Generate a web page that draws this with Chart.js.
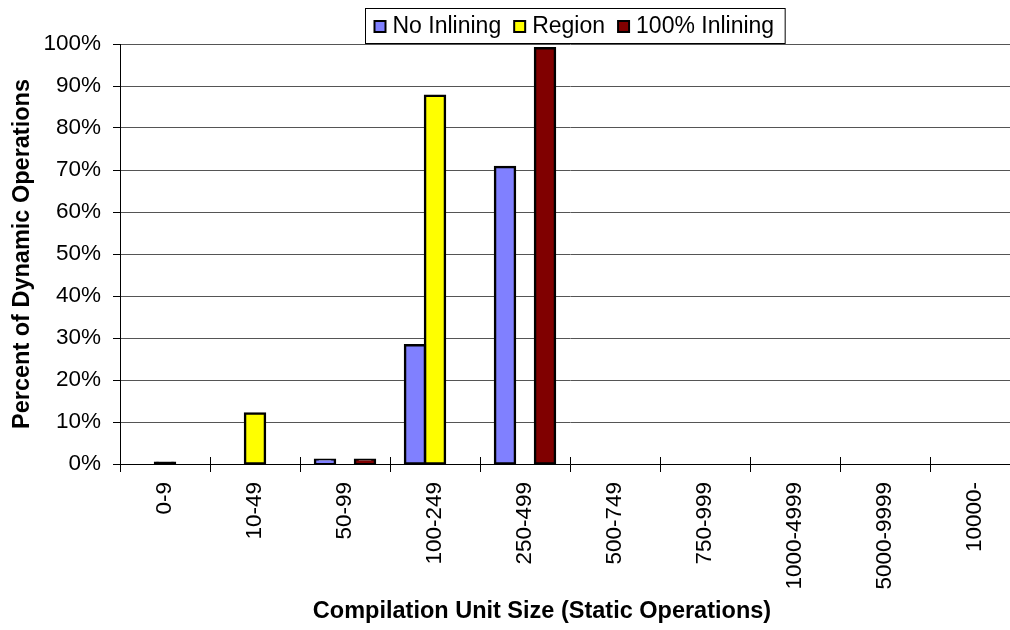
<!DOCTYPE html>
<html>
<head>
<meta charset="utf-8">
<script src="https://cdn.jsdelivr.net/npm/chart.js@4/dist/chart.umd.min.js"></script>
<style>
  html, body { margin: 0; padding: 0; background: #fff; width: 1010px; height: 630px; overflow: hidden; }
  canvas { display: block; }
</style>
</head>
<body>
<canvas id="chart" width="1030" height="630"></canvas>
<script>
// Compilation unit size buckets (static operations)
const categories = ['0-9', '10-49', '50-99', '100-249', '250-499', '500-749', '750-999', '1000-4999', '5000-9999', '10000-'];

// Percent of dynamic operations per bucket
const noInlining   = [0,   0,  1, 28.3, 70.7, 0, 0, 0, 0, 0];
const region       = [0.3, 12, 0, 87.7, 0,    0, 0, 0, 0, 0];
const fullInlining = [0,   0,  1, 0,    99,   0, 0, 0, 0, 0];

const seriesNames  = ['No Inlining', 'Region', '100% Inlining'];
const seriesColors = ['#8080FF', '#FFFF00', '#800000'];

const xTitle = 'Compilation Unit Size (Static Operations)';
const yTitle = 'Percent of Dynamic Operations';

const FONT = '"Liberation Sans", Arial, sans-serif';

// Boxed legend above the plot
const boxedLegend = {
  id: 'boxedLegend',
  afterDraw(chart) {
    const ctx = chart.ctx;
    ctx.save();
    ctx.font = '23px ' + FONT;
    ctx.textBaseline = 'middle';
    const sw = 13, gapIn = 6, gapOut = 12, padL = 8, padR = 11;
    const widths = chart.data.datasets.map(d => ctx.measureText(d.label).width);
    let total = padL + padR;
    widths.forEach((w, i) => { total += sw + gapIn + w + (i < widths.length - 1 ? gapOut : 0); });
    const cx = 574.5;
    const left = Math.round(cx - total / 2) + 0.5;
    const top = 8.5, h = 35;
    ctx.fillStyle = '#fff';
    ctx.fillRect(left, top, total, h);
    ctx.strokeStyle = '#000';
    ctx.lineWidth = 1;
    ctx.strokeRect(left, top, total, h);
    let x = left + padL;
    const cy = top + h / 2;
    chart.data.datasets.forEach((d, i) => {
      const my = Math.round(cy - sw / 2);
      ctx.fillStyle = '#000';
      ctx.fillRect(x, my, sw, sw);
      ctx.fillStyle = seriesColors[i];
      ctx.fillRect(x + 2, my + 2, sw - 4, sw - 4);
      x += sw + gapIn;
      ctx.fillStyle = '#000';
      ctx.fillText(d.label, x, cy + 1);
      x += widths[i] + gapOut;
    });
    ctx.restore();
  }
};

// Category tick marks cross the horizontal axis; axis title under the labels
const axisExtras = {
  id: 'axisExtras',
  afterDraw(chart) {
    const xs = chart.scales.x;
    const ctx = chart.ctx;
    const n = chart.data.labels.length;
    const step = (xs.right - xs.left) / n;
    ctx.save();
    ctx.strokeStyle = '#000';
    ctx.lineWidth = 1;
    ctx.beginPath();
    for (let i = 0; i <= n; i++) {
      const x = Math.round(xs.left + i * step) + 0.5;
      ctx.moveTo(x, xs.top - 7);
      ctx.lineTo(x, xs.top);
    }
    ctx.stroke();
    ctx.font = 'bold 23.5px ' + FONT;
    ctx.fillStyle = '#000';
    ctx.textAlign = 'center';
    ctx.textBaseline = 'middle';
    ctx.fillText(xTitle, 542, 612);
    ctx.restore();
  }
};

// Bars too short to show their fill appear as a plain outline
const makeSet = (label, values, color) => ({
  label,
  data: values,
  backgroundColor: c => (c.raw > 0 && c.raw < 0.5 ? '#000' : color),
  borderColor: '#000',
  borderWidth: 2.5,
  borderSkipped: false,
  inflateAmount: c => (c.raw > 0 ? 1.25 : 0),
  categoryPercentage: 60 / 90,
  barPercentage: 1.0
});

new Chart(document.getElementById('chart'), {
  type: 'bar',
  data: {
    labels: categories,
    datasets: [
      makeSet(seriesNames[0], noInlining, seriesColors[0]),
      makeSet(seriesNames[1], region, seriesColors[1]),
      makeSet(seriesNames[2], fullInlining, seriesColors[2])
    ]
  },
  options: {
    responsive: false,
    animation: false,
    devicePixelRatio: 1,
    layout: { padding: { left: 0, top: 44, right: 10, bottom: 0 } },
    plugins: {
      legend: { display: false },
      tooltip: { enabled: false },
      title: { display: false }
    },
    scales: {
      x: {
        afterFit(s) { s.height = 630 - 464; },
        grid: { display: true, drawOnChartArea: false, offset: true, tickLength: 8, color: '#000', lineWidth: 1 },
        border: { display: true, color: '#000', width: 1 },
        ticks: {
          minRotation: 90, maxRotation: 90, autoSkip: false, padding: 10,
          color: '#000', font: { family: FONT, size: 22.5 }
        }
      },
      y: {
        min: 0, max: 100,
        afterFit(s) { s.width = 120; },
        grid: { color: '#555', lineWidth: 1, tickLength: 7, tickColor: '#000' },
        border: { display: true, color: '#000', width: 1 },
        ticks: {
          stepSize: 10, padding: 12, color: '#000',
          font: { family: FONT, size: 22.5 },
          callback: v => v + '%'
        },
        title: {
          display: true, text: yTitle,
          color: '#000', font: { family: FONT, size: 23.5, weight: 'bold' },
          padding: { top: 8, bottom: 0 }
        }
      }
    }
  },
  plugins: [boxedLegend, axisExtras]
});
</script>
</body>
</html>
